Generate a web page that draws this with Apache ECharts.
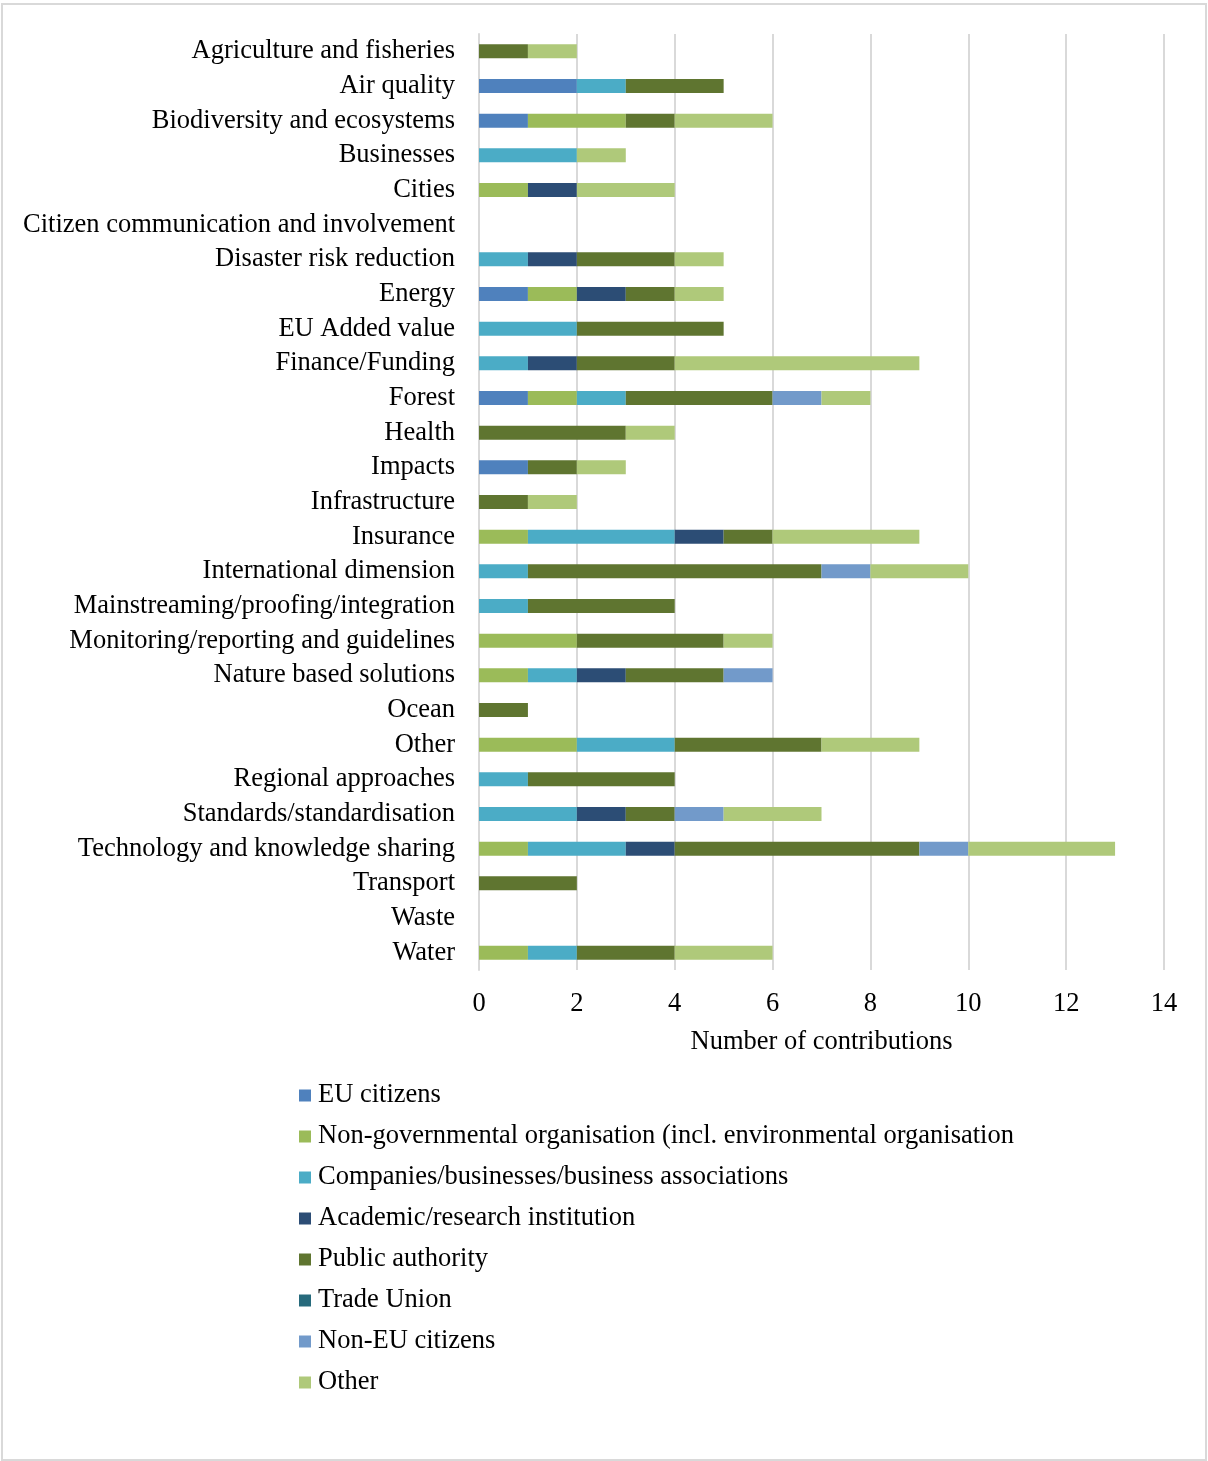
<!DOCTYPE html>
<html>
<head>
<meta charset="utf-8">
<script src="https://cdn.jsdelivr.net/npm/echarts@6/dist/echarts.min.js"></script>
<style>
  html, body { margin: 0; padding: 0; background: #ffffff; }
  #wrap { position: relative; width: 1208px; height: 1461px; background: #ffffff; }
  #frame { position: absolute; left: 1px; top: 3px; width: 1202px; height: 1454px; border: 2px solid #d9d9d9; }
  #chart { position: absolute; left: 0; top: 0; width: 1208px; height: 1461px; }
</style>
</head>
<body>
<div id="wrap">
  <div id="frame"></div>
  <div id="chart"></div>
</div>
<script>
// Topics, top to bottom
const categories = [
  'Agriculture and fisheries', 'Air quality', 'Biodiversity and ecosystems', 'Businesses', 'Cities',
  'Citizen communication and involvement', 'Disaster risk reduction', 'Energy', 'EU Added value',
  'Finance/Funding', 'Forest', 'Health', 'Impacts', 'Infrastructure', 'Insurance',
  'International dimension', 'Mainstreaming/proofing/integration', 'Monitoring/reporting and guidelines',
  'Nature based solutions', 'Ocean', 'Other', 'Regional approaches', 'Standards/standardisation',
  'Technology and knowledge sharing', 'Transport', 'Waste', 'Water'
];

// Contributions per respondent type (same order as categories)
const euCitizens   = [0,2,1,0,0,0,0,1,0,0,1,0,1,0,0,0,0,0,0,0,0,0,0,0,0,0,0];
const ngo          = [0,0,2,0,1,0,0,1,0,0,1,0,0,0,1,0,0,2,1,0,2,0,0,1,0,0,1];
const companies    = [0,1,0,2,0,0,1,0,2,1,1,0,0,0,3,1,1,0,1,0,2,1,2,2,0,0,1];
const academic     = [0,0,0,0,1,0,1,1,0,1,0,0,0,0,1,0,0,0,1,0,0,0,1,1,0,0,0];
const publicAuth   = [1,2,1,0,0,0,2,1,3,2,3,3,1,1,1,6,3,3,2,1,3,3,1,5,2,0,2];
const tradeUnion   = [0,0,0,0,0,0,0,0,0,0,0,0,0,0,0,0,0,0,0,0,0,0,0,0,0,0,0];
const nonEuCitizens= [0,0,0,0,0,0,0,0,0,0,1,0,0,0,0,1,0,0,1,0,0,0,1,1,0,0,0];
const otherResp    = [1,0,2,1,2,0,1,1,0,5,1,1,1,1,3,2,0,1,0,0,2,0,2,3,0,0,2];

const seriesNames = [
  'EU citizens',
  'Non-governmental organisation (incl. environmental organisation',
  'Companies/businesses/business associations',
  'Academic/research institution',
  'Public authority',
  'Trade Union',
  'Non-EU citizens',
  'Other'
];
const seriesData = [euCitizens, ngo, companies, academic, publicAuth, tradeUnion, nonEuCitizens, otherResp];
const seriesColors = ['#4f81bd', '#9bbb59', '#4bacc6', '#2c4d75', '#5f7530', '#276a7c', '#729aca', '#afc97a'];

const xTicks = { min: 0, max: 14, interval: 2 };

const font = 'Liberation Serif, Times New Roman, serif';
const fontSize = 26.5;
const textColor = '#000000';

const chart = echarts.init(document.getElementById('chart'), null, { renderer: 'canvas' });

chart.setOption({
  animation: false,
  color: seriesColors,
  textStyle: { fontFamily: font },
  grid: { left: 479, right: 44, top: 34, bottom: 491, containLabel: false },
  xAxis: {
    type: 'value',
    min: xTicks.min, max: xTicks.max, interval: xTicks.interval,
    name: 'Number of contributions',
    nameLocation: 'middle',
    nameGap: 59,
    nameTextStyle: { fontFamily: font, fontSize: fontSize, color: textColor },
    axisLine: { show: false },
    axisTick: { show: false },
    axisLabel: { fontFamily: font, fontSize: fontSize, color: textColor, margin: 21 },
    splitLine: { show: true, lineStyle: { color: '#d9d9d9', width: 2 } }
  },
  yAxis: {
    type: 'category',
    data: categories,
    inverse: true,
    axisLine: { show: true, lineStyle: { color: '#d9d9d9', width: 2 } },
    axisTick: { show: false },
    axisLabel: {
      fontFamily: font, fontSize: fontSize, color: textColor, margin: 24,
      interval: 0, hideOverlap: false
    }
  },
  legend: {
    orient: 'vertical',
    left: 294,
    top: 1077,
    padding: 5,
    icon: 'rect',
    itemWidth: 12,
    itemHeight: 12,
    itemGap: 14,
    textStyle: { fontFamily: font, fontSize: fontSize, color: textColor, padding: [0, 0, 0, 2] },
    data: seriesNames
  },
  series: seriesNames.map((name, i) => ({
    name: name,
    type: 'bar',
    stack: 'total',
    barWidth: 14,
    data: seriesData[i],
    itemStyle: { color: seriesColors[i] }
  }))
});
</script>
</body>
</html>
